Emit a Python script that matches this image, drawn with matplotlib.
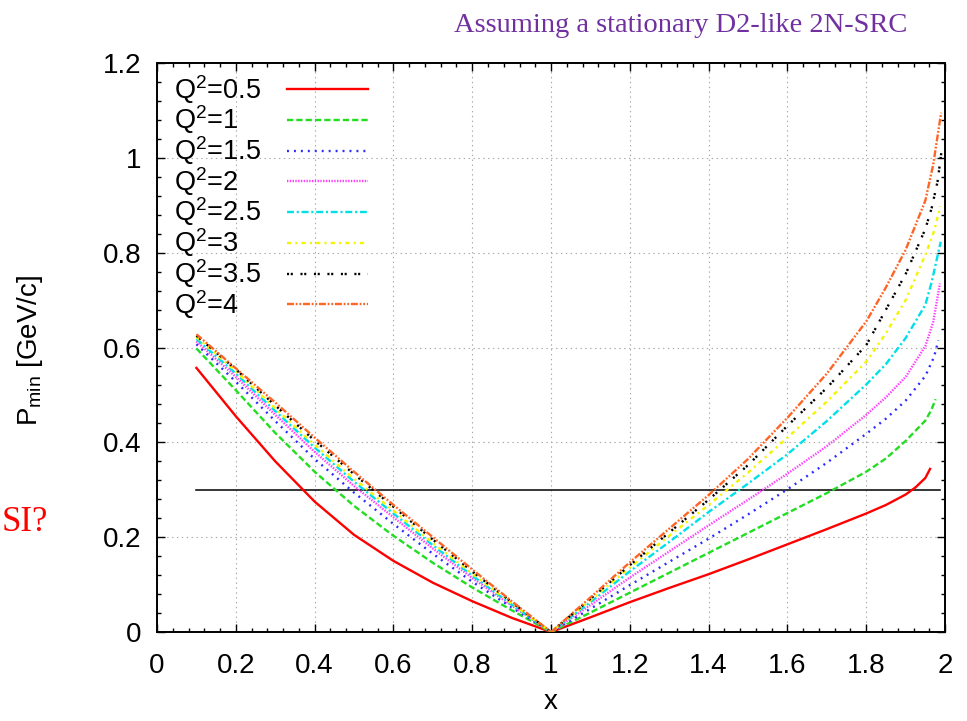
"""
Minimum missing momentum vs x for a stationary D2-like 2N-SRC pair,
one curve per Q^2, gnuplot-style layout.

Output:
    out.png
"""

import matplotlib
matplotlib.use("Agg")
import matplotlib.pyplot as plt
from matplotlib.ticker import FormatStrFormatter, MultipleLocator

plt.rcParams["font.family"] = ["Liberation Sans", "DejaVu Sans"]
plt.rcParams["mathtext.fontset"] = "custom"
plt.rcParams["mathtext.rm"] = "Liberation Sans"
plt.rcParams["mathtext.it"] = "Liberation Sans:italic"
plt.rcParams["lines.scale_dashes"] = False

# shared x sampling up to 1.9, curves meet at x = 1
X_GRID = [0.1, 0.2, 0.3, 0.4, 0.5, 0.6, 0.7, 0.8, 0.9, 1.0,
          1.1, 1.2, 1.3, 1.4, 1.5, 1.6, 1.7, 1.8, 1.85, 1.9]

Q2_LABELS = ["0.5", "1", "1.5", "2", "2.5", "3", "3.5", "4"]

P_Q05 = [0.557, 0.455, 0.36, 0.275, 0.205, 0.15, 0.104, 0.065, 0.03, 0.0,
         0.031, 0.063, 0.093, 0.122, 0.153, 0.185, 0.217, 0.25, 0.268, 0.29]
P_Q10 = [0.598, 0.51, 0.42, 0.338, 0.266, 0.203, 0.146, 0.094, 0.046, 0.0,
         0.041, 0.083, 0.125, 0.167, 0.209, 0.251, 0.293, 0.338, 0.366, 0.403]
P_Q15 = [0.607, 0.528, 0.445, 0.365, 0.294, 0.228, 0.165, 0.106, 0.052, 0.0,
         0.049, 0.099, 0.148, 0.197, 0.248, 0.301, 0.357, 0.418, 0.45, 0.488]
P_Q20 = [0.613, 0.538, 0.458, 0.38, 0.308, 0.242, 0.176, 0.114, 0.056, 0.0,
         0.057, 0.115, 0.17, 0.225, 0.279, 0.334, 0.392, 0.458, 0.495, 0.538]
P_Q25 = [0.618, 0.545, 0.466, 0.389, 0.317, 0.25, 0.183, 0.119, 0.058, 0.0,
         0.063, 0.128, 0.19, 0.253, 0.313, 0.375, 0.445, 0.522, 0.565, 0.62]
P_Q30 = [0.622, 0.55, 0.472, 0.395, 0.323, 0.256, 0.188, 0.123, 0.06, 0.0,
         0.067, 0.136, 0.203, 0.268, 0.336, 0.41, 0.486, 0.57, 0.63, 0.70]
P_Q35 = [0.625, 0.554, 0.478, 0.404, 0.333, 0.264, 0.195, 0.128, 0.063, 0.0,
         0.07, 0.141, 0.21, 0.279, 0.352, 0.435, 0.515, 0.605, 0.68, 0.755]
P_Q40 = [0.628, 0.556, 0.484, 0.41, 0.338, 0.268, 0.2, 0.132, 0.065, 0.0,
         0.073, 0.147, 0.218, 0.289, 0.365, 0.452, 0.545, 0.655, 0.727, 0.806]

# steep ends near x = 2, where each curve stops
TAIL_X = [[1.925, 1.95, 1.962],
          [1.95, 1.965, 1.976],
          [1.95, 1.972, 1.983],
          [1.95, 1.97, 1.987],
          [1.95, 1.966, 1.989],
          [1.95, 1.972, 1.988],
          [1.95, 1.966, 1.981, 1.992],
          [1.95, 1.97, 1.99]]
TAIL_Y = [[0.305, 0.325, 0.344],
          [0.446, 0.468, 0.491],
          [0.54, 0.58, 0.615],
          [0.603, 0.654, 0.735],
          [0.69, 0.738, 0.823],
          [0.795, 0.845, 0.898],
          [0.85, 0.894, 0.95, 1.02],
          [0.91, 0.986, 1.095]]

P_CUT = 0.3
CUT_RANGE = [0.1, 1.987]

COLORS = ["#ff0000", "#22dd22", "#2a2aff", "#ff3cff",
          "#00e0e8", "#f4f400", "#000000", "#ff6424"]
DASHES = [None, (4.5, 2.2), (1.4, 3.6), (1.0, 1.0),
          (5.0, 2.0, 1.5, 2.0), (3.0, 3.0, 1.5, 3.0),
          (1.5, 1.2, 1.5, 5.5), (5.0, 1.3, 1.3, 1.3, 1.3, 1.3)]

FONT = 20
KEY_FONT = 19.5


def styled_line(ax, xs, ys, i, **kw):
    line, = ax.plot(xs, ys, color=COLORS[i], linewidth=1.7, **kw)
    if DASHES[i] is not None:
        line.set_dashes(DASHES[i])
    return line


def draw_curves(ax):
    series = [P_Q05, P_Q10, P_Q15, P_Q20, P_Q25, P_Q30, P_Q35, P_Q40]
    for i, ys in enumerate(series):
        styled_line(ax, X_GRID + TAIL_X[i], ys + TAIL_Y[i], i, zorder=3 + i)
    ax.plot(CUT_RANGE, [P_CUT, P_CUT], color="black", linewidth=1.1, zorder=2)


def draw_key(ax):
    # gnuplot-like key: left-justified text, samples in a fixed column
    y0, dy = 0.954, 0.054
    for i, q2 in enumerate(Q2_LABELS):
        y = y0 - i * dy
        ax.text(0.022, y, f"Q$^{{2}}$={q2}", transform=ax.transAxes,
                fontsize=KEY_FONT, ha="left", va="center", zorder=20)
        styled_line(ax, [0.165, 0.268], [y, y], i, transform=ax.transAxes,
                    clip_on=False, zorder=20)


def style_axes(ax):
    ax.set_xlim(0, 2)
    ax.set_ylim(0, 1.2)
    ax.xaxis.set_major_locator(MultipleLocator(0.2))
    ax.xaxis.set_minor_locator(MultipleLocator(0.04))
    ax.yaxis.set_major_locator(MultipleLocator(0.2))
    ax.yaxis.set_minor_locator(MultipleLocator(0.04))
    ax.xaxis.set_major_formatter(FormatStrFormatter("%g"))
    ax.yaxis.set_major_formatter(FormatStrFormatter("%g"))
    ax.tick_params(which="both", direction="in", top=True, right=True,
                   width=1.0, labelsize=FONT)
    ax.tick_params(which="major", length=6)
    ax.tick_params(axis="x", which="major", pad=15)
    ax.tick_params(axis="y", which="major", pad=11)
    ax.tick_params(which="minor", length=3)
    ax.grid(True, which="major", color="#a8a8a8", linestyle=(0, (1, 2.5)), linewidth=0.8)
    for s in ax.spines.values():
        s.set_linewidth(1.4)
    ax.set_xlabel("x", fontsize=FONT, labelpad=7)
    ax.set_ylabel(r"P$_{\rm min}$ [GeV/c]", fontsize=FONT)
    ax.yaxis.set_label_coords(-0.142, 0.494)


def main():
    fig = plt.figure(figsize=(9.67, 7.21), dpi=100)
    ax = fig.add_axes([0.1624, 0.1234, 0.8149, 0.7892])
    draw_curves(ax)
    draw_key(ax)
    style_axes(ax)
    fig.text(0.704, 0.965, "Assuming a stationary D2-like 2N-SRC", color="#7030a0",
             fontsize=20.5, family=["Liberation Serif", "DejaVu Serif"],
             ha="center", va="center")
    fig.text(0.05, 0.276, "SI?", color="#ff0000", fontsize=25,
             family=["Liberation Serif", "DejaVu Serif"], ha="right", va="center")
    fig.savefig("out.png", dpi=100)
    plt.close(fig)


if __name__ == "__main__":
    main()
